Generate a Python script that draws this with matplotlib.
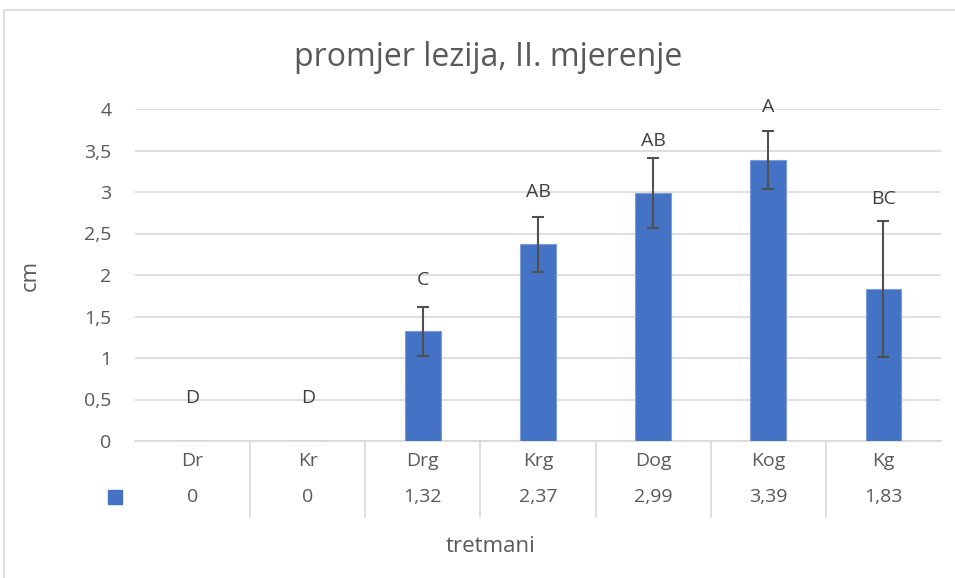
import matplotlib
matplotlib.use('Agg')
import matplotlib.pyplot as plt
from matplotlib.patches import Rectangle
from matplotlib.transforms import blended_transform_factory

plt.rcParams['font.family'] = ['Open Sans', 'DejaVu Sans']

# data
categories = ['Dr', 'Kr', 'Drg', 'Krg', 'Dog', 'Kog', 'Kg']
values = [0, 0, 1.32, 2.37, 2.99, 3.39, 1.83]
value_labels = ['0', '0', '1,32', '2,37', '2,99', '3,39', '1,83']
errors = [0, 0, 0.30, 0.33, 0.42, 0.35, 0.82]
letters = ['D', 'D', 'C', 'AB', 'AB', 'A', 'BC']
letter_heights = [0.52, 0.52, 1.94, 3.0, 3.61, 4.02, 2.92]
y_ticks = [0, 0.5, 1, 1.5, 2, 2.5, 3, 3.5, 4]
y_tick_labels = ['0', '0,5', '1', '1,5', '2', '2,5', '3', '3,5', '4']

BLUE = '#4472C4'
TEXT = '#595959'
GRID = '#d9d9d9'
FS = 14

fig = plt.figure(figsize=(9.55, 5.78), dpi=100)
fig.patches.append(Rectangle((4 / 955, -0.1), 1.1, 1 - 10 / 578 + 0.1,
                             transform=fig.transFigure, fill=False,
                             edgecolor=GRID, linewidth=1.2))
ax = fig.add_axes([135 / 955, 1 - 441 / 578, 806 / 955, 332 / 578])

x = list(range(len(categories)))
ax.bar(x, values, width=0.31, color=BLUE, edgecolor='#7d9bd6',
       linewidth=0.8, zorder=3)
# zero-height entries only get a faint bar edge, no dark error cap
ex = [xi for xi, e in zip(x, errors) if e > 0]
ev = [v for v, e in zip(values, errors) if e > 0]
ee = [e for e in errors if e > 0]
ax.errorbar(ex, ev, yerr=ee, fmt='none', ecolor='#505050',
            elinewidth=1.5, capsize=4, capthick=1.5, zorder=4)

for xi, txt, h in zip(x, letters, letter_heights):
    ax.text(xi, h, txt, ha='center', va='center', fontsize=FS, color='#404040')

ax.set_xlim(-0.5, len(categories) - 0.5)
ax.set_ylim(0, 4)
ax.set_yticks(y_ticks)
ax.set_yticklabels(y_tick_labels, fontsize=FS, color=TEXT)
ax.tick_params(axis='y', length=0, pad=17)
ax.set_xticks([])
ax.grid(axis='y', color=GRID, linewidth=1.2, zorder=0)
for side in ['top', 'right', 'left']:
    ax.spines[side].set_visible(False)
ax.spines['bottom'].set_color(GRID)
ax.spines['bottom'].set_linewidth(1.2)

# data table under the axis
trans = blended_transform_factory(ax.transData, ax.transAxes)
for xi, cat, lab in zip(x, categories, value_labels):
    ax.text(xi, -0.060, cat, transform=trans, ha='center', va='center',
            fontsize=FS, color=TEXT)
    ax.text(xi, -0.169, lab, transform=trans, ha='center', va='center',
            fontsize=FS, color=TEXT)
for xi in x[:-1]:
    ax.plot([xi + 0.5, xi + 0.5], [0, -0.229], transform=trans, color=GRID,
            linewidth=1.2, clip_on=False)
ax.plot([-20 / 806], [-0.169], transform=ax.transAxes, marker='s',
        markersize=9.5, color=BLUE, clip_on=False)

ax.set_ylabel('cm', fontsize=16, color=TEXT)
ax.yaxis.set_label_coords(-94 / 806, 0.5)
fig.text(491 / 955, 1 - 547 / 578, 'tretmani', ha='center', va='center',
         fontsize=16, color=TEXT)
fig.text(488 / 955, 1 - 57 / 578, 'promjer lezija, II. mjerenje', ha='center',
         va='center', fontsize=23, color=TEXT)

fig.savefig('out.png', dpi=100)
